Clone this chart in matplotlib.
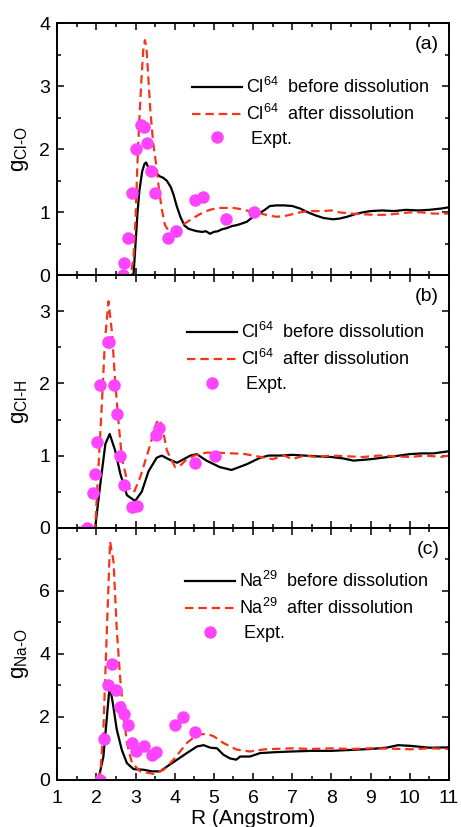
import numpy as np
import matplotlib
matplotlib.use('Agg')
import matplotlib.pyplot as plt
from matplotlib.ticker import MultipleLocator

plt.rcParams['font.family'] = ['Liberation Sans', 'DejaVu Sans']
plt.rcParams['mathtext.fontset'] = 'custom'
plt.rcParams['mathtext.rm'] = 'Liberation Sans'
plt.rcParams['mathtext.it'] = 'Liberation Sans'

# ---------------- panel (a): Cl-O ----------------
r_clo_before = [2.85, 2.95, 3.0, 3.05, 3.1, 3.17, 3.23, 3.27, 3.32, 3.38, 3.45, 3.54, 3.62, 3.7,
                3.8, 3.9, 3.97, 4.05, 4.15, 4.25, 4.35, 4.45, 4.57, 4.7, 4.8, 4.9, 5.0, 5.1, 5.2,
                5.33, 5.45, 5.6, 5.7, 5.84, 6.0, 6.1, 6.2, 6.3, 6.43, 6.6, 6.8, 7.0, 7.2, 7.4,
                7.6, 7.8, 8.04, 8.2, 8.4, 8.6, 8.8, 9.0, 9.3, 9.6, 9.9, 10.2, 10.5, 10.8, 11.0]
g_clo_before = [0.0, 0.02, 0.5, 1.0, 1.35, 1.65, 1.77, 1.79, 1.72, 1.64, 1.62, 1.61, 1.57, 1.55,
                1.5, 1.4, 1.28, 1.1, 0.92, 0.79, 0.74, 0.72, 0.7, 0.69, 0.7, 0.66, 0.69, 0.7, 0.73,
                0.75, 0.78, 0.8, 0.82, 0.85, 0.93, 0.97, 1.0, 1.04, 1.1, 1.11, 1.11, 1.1, 1.06, 1.0,
                0.95, 0.91, 0.89, 0.9, 0.93, 0.97, 1.0, 1.02, 1.03, 1.02, 1.04, 1.03, 1.04, 1.06, 1.08]

r_clo_after = [2.0, 2.88, 2.95, 3.0, 3.05, 3.1, 3.15, 3.2, 3.24, 3.28, 3.32, 3.38, 3.45, 3.54,
               3.6, 3.67, 3.75, 3.85, 3.95, 4.1, 4.3, 4.5, 4.7, 4.9, 5.1, 5.3, 5.5, 5.7, 5.9,
               6.0, 6.2, 6.4, 6.6, 6.8, 7.0, 7.2, 7.4, 7.6, 7.8, 8.0, 8.2, 8.5, 8.8, 9.1, 9.4,
               9.7, 10.0, 10.3, 10.6, 11.0]
g_clo_after = [0.0, 0.0, 0.3, 0.9, 1.8, 2.5, 3.1, 3.6, 3.73, 3.6, 3.2, 2.6, 2.1, 1.7,
               1.35, 1.05, 0.8, 0.7, 0.71, 0.76, 0.84, 0.92, 0.99, 1.04, 1.07, 1.07, 1.07, 1.05, 1.02,
               1.0, 0.98, 0.95, 0.93, 0.94, 0.97, 1.0, 1.02, 1.02, 1.02, 1.03, 1.0, 0.98, 0.97, 0.96, 0.96,
               0.98, 1.0, 1.0, 0.98, 0.98]

r_clo_expt = [2.67, 2.71, 2.8, 2.9, 3.0, 3.13, 3.22, 3.3, 3.4, 3.5, 3.82, 4.04, 4.51, 4.71, 5.32, 6.03]
g_clo_expt = [0.0, 0.2, 0.6, 1.3, 2.0, 2.38, 2.35, 2.1, 1.66, 1.3, 0.6, 0.7, 1.2, 1.25, 0.9, 1.0]

# ---------------- panel (b): Cl-H ----------------
r_clh_before = [1.97, 2.1, 2.23, 2.34, 2.48, 2.61, 2.78, 2.99, 3.16, 3.33, 3.54, 3.67, 3.84, 4.06,
                4.23, 4.4, 4.56, 4.81, 5.15, 5.45, 5.84, 6.18, 6.4, 6.7, 7.0, 7.3, 7.6, 8.0, 8.3,
                8.56, 8.8, 9.0, 9.3, 9.6, 10.0, 10.3, 10.6, 11.0]
g_clh_before = [0.0, 0.6, 1.16, 1.3, 1.07, 0.75, 0.45, 0.37, 0.5, 0.78, 0.97, 1.0, 0.95, 0.9,
                0.95, 1.0, 1.02, 0.93, 0.84, 0.8, 0.88, 0.97, 1.0, 1.0, 1.01, 1.0, 0.99, 0.98, 0.96,
                0.93, 0.94, 0.95, 0.97, 0.99, 1.02, 1.03, 1.03, 1.06]

r_clh_after = [1.5, 1.97, 2.05, 2.14, 2.22, 2.31, 2.4, 2.48, 2.56, 2.65, 2.82, 2.96, 3.12, 3.33,
               3.54, 3.62, 3.7, 3.8, 4.01, 4.14, 4.27, 4.5, 4.8, 5.1, 5.5, 5.8, 6.1, 6.5, 6.8,
               7.0, 7.3, 7.6, 8.0, 8.4, 8.8, 9.2, 9.6, 10.0, 10.4, 10.8, 11.0]
g_clh_after = [0.0, 0.0, 0.8, 1.71, 2.6, 3.14, 2.7, 2.03, 1.5, 0.97, 0.56, 0.49, 0.7, 1.07,
               1.46, 1.5, 1.35, 1.07, 0.84, 0.86, 0.93, 1.0, 1.04, 1.04, 1.03, 1.02, 0.99, 0.95, 1.0,
               0.95, 1.0, 0.98, 1.0, 0.99, 0.98, 1.0, 0.99, 0.98, 1.0, 0.98, 1.0]

r_clh_expt = [1.76, 1.91, 1.96, 2.01, 2.1, 2.29, 2.33, 2.46, 2.52, 2.61, 2.71, 2.9, 3.03,
              3.51, 3.61, 4.52, 5.03]
g_clh_expt = [0.0, 0.48, 0.74, 1.19, 1.98, 2.58, 2.58, 1.98, 1.58, 0.99, 0.59, 0.29, 0.3,
              1.29, 1.38, 0.89, 0.99]

# ---------------- panel (c): Na-O ----------------
r_nao_before = [2.05, 2.18, 2.27, 2.34, 2.42, 2.52, 2.65, 2.78, 2.95, 3.21, 3.42, 3.63, 3.8, 4.06,
                4.31, 4.57, 4.74, 4.91, 5.08, 5.24, 5.41, 5.57, 5.67, 5.92, 6.18, 6.6, 7.0, 7.5,
                8.0, 8.5, 9.0, 9.4, 9.7, 10.0, 10.5, 11.0]
g_nao_before = [0.0, 0.74, 2.0, 3.0, 2.44, 1.6, 0.95, 0.53, 0.34, 0.32, 0.27, 0.27, 0.42, 0.64,
                0.85, 1.06, 1.1, 1.02, 1.0, 0.8, 0.68, 0.64, 0.74, 0.74, 0.85, 0.88, 0.9, 0.92,
                0.92, 0.95, 0.98, 1.02, 1.1, 1.08, 1.02, 1.03]

r_nao_after = [2.01, 2.1, 2.18, 2.27, 2.35, 2.44, 2.52, 2.61, 2.7, 2.78, 2.91, 3.12, 3.46, 3.72,
               3.97, 4.31, 4.57, 4.82, 5.0, 5.24, 5.58, 5.92, 6.3, 7.0, 7.5, 8.0, 8.5, 9.0, 9.5,
               10.0, 10.5, 11.0]
g_nao_after = [0.0, 0.2, 1.6, 4.8, 7.56, 6.9, 4.78, 3.2, 2.0, 1.17, 0.53, 0.27, 0.19, 0.32,
               0.64, 1.17, 1.43, 1.46, 1.38, 1.17, 0.96, 0.9, 0.97, 1.0, 0.98, 1.0, 0.98, 1.0, 0.99,
               0.97, 1.0, 0.98]

r_nao_expt = [2.09, 2.2, 2.3, 2.4, 2.51, 2.61, 2.71, 2.8, 2.9, 3.0, 3.21, 3.41, 3.51, 4.0, 4.21, 4.51]
g_nao_expt = [0.0, 1.3, 3.0, 3.66, 2.84, 2.3, 2.09, 1.74, 1.16, 0.92, 1.08, 0.79, 0.88, 1.74, 1.99, 1.51]

panels = [
    (r_clo_before, g_clo_before, r_clo_after, g_clo_after, r_clo_expt, g_clo_expt,
     r'Cl$^{64}$', r'$\mathrm{g}_{\mathrm{Cl\text{-}O}}$', 4, [0, 1, 2, 3, 4], 0.5, '(a)'),
    (r_clh_before, g_clh_before, r_clh_after, g_clh_after, r_clh_expt, g_clh_expt,
     r'Cl$^{64}$', r'$\mathrm{g}_{\mathrm{Cl\text{-}H}}$', 3.5, [0, 1, 2, 3], 0.5, '(b)'),
    (r_nao_before, g_nao_before, r_nao_after, g_nao_after, r_nao_expt, g_nao_expt,
     r'Na$^{29}$', r'$\mathrm{g}_{\mathrm{Na\text{-}O}}$', 8, [0, 2, 4, 6], 1, '(c)'),
]
legend_anchor = [(0.345, 0.787), (0.332, 0.815), (0.327, 0.827)]

fig, axes = plt.subplots(3, 1, figsize=(4.61, 8.27), dpi=100, sharex=True)
fig.subplots_adjust(left=0.124, right=0.974, top=0.972, bottom=0.057, hspace=0)

red = '#F5341A'
pink = '#FF44FF'

for ax, anchor, (rb, gb, ra, ga, re, ge, ion, ylab, ymax, yt, ymin_step, tag) in zip(axes, legend_anchor, panels):
    ax.plot(rb, gb, color='black', lw=1.6, label=ion + '  before dissolution')
    ax.plot(ra, ga, color=red, lw=1.6, ls=(0, (3.8, 2.2)), label=ion + '  after dissolution')
    ax.plot(re, ge, 'o', color=pink, ms=9, mec='none', label=' Expt.')

    ax.set_xlim(1, 11)
    ax.set_ylim(0, ymax)
    ax.xaxis.set_major_locator(MultipleLocator(1))
    ax.xaxis.set_minor_locator(MultipleLocator(0.5))
    ax.set_yticks(yt)
    ax.yaxis.set_minor_locator(MultipleLocator(ymin_step))
    ax.tick_params(which='both', direction='in', top=True, right=True, labelsize=14, width=1.1)
    ax.tick_params(which='major', length=5)
    ax.tick_params(which='minor', length=3)
    ax.tick_params(axis='x', pad=7)
    ax.tick_params(axis='y', pad=5)
    for s in ax.spines.values():
        s.set_linewidth(1.4)

    ax.set_ylabel(ylab, fontsize=16, labelpad=6)
    ax.text(0.975, 0.915, tag, transform=ax.transAxes, ha='right', va='center', fontsize=14)
    ax.legend(loc='upper left', bbox_to_anchor=anchor, frameon=False, fontsize=13,
              handlelength=2.75, handletextpad=0.2, labelspacing=0.38, borderpad=0,
              borderaxespad=0)

axes[2].set_xlabel('R (Angstrom)', fontsize=15, labelpad=2)

fig.savefig('out.png', dpi=100)
